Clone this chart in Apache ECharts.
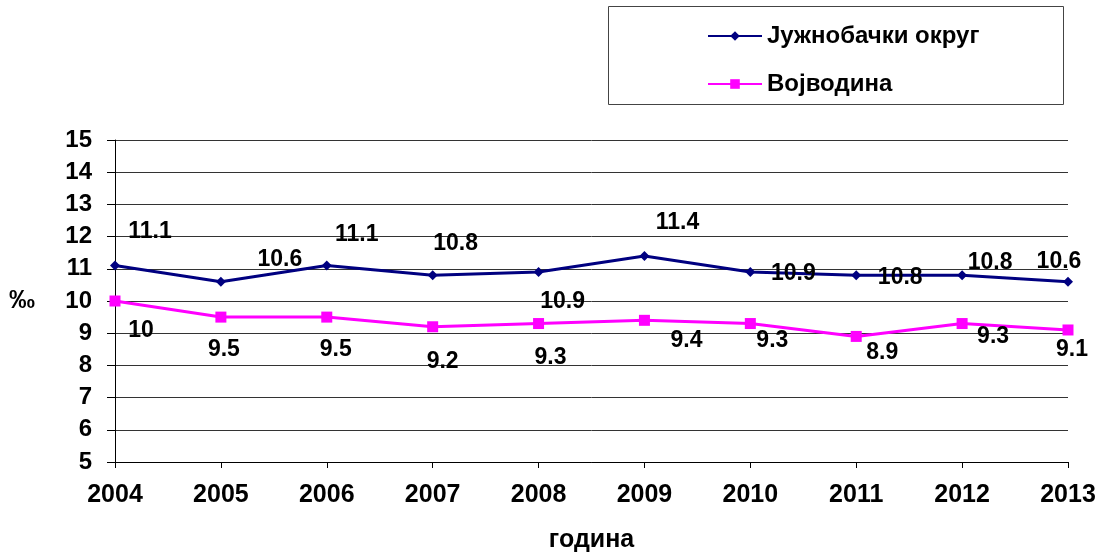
<!DOCTYPE html>
<html>
<head>
<meta charset="utf-8">
<script src="https://cdn.jsdelivr.net/npm/echarts@6/dist/echarts.min.js"></script>
<style>
html, body { margin: 0; padding: 0; background: #fff; }
#main { width: 1106px; height: 556px; }
</style>
</head>
<body>
<div id="main"></div>
<script>
// chart data
var years = ['2004', '2005', '2006', '2007', '2008', '2009', '2010', '2011', '2012', '2013'];
var juznobacki = [11.1, 10.6, 11.1, 10.8, 10.9, 11.4, 10.9, 10.8, 10.8, 10.6];
var vojvodina = [10, 9.5, 9.5, 9.2, 9.3, 9.4, 9.3, 8.9, 9.3, 9.1];

// label offsets (px from point), as placed in the original
var blueOffsets = [[35, -34], [59, -22], [30, -31], [23, -32], [24, 30], [33, -33], [43, 2], [44, 2], [28, -13], [-9, -20]];
var pinkOffsets = [[26, 30], [3, 33], [9, 33], [10, 35], [12, 34], [42, 20], [22, 17], [26, 16], [31, 13], [4, 20]];

var fontFam = 'Liberation Sans, Arial, sans-serif';

function withLabels(values, offsets) {
	return values.map(function(v, i) {
		return {
			value : v,
			label : { offset : offsets[i] }
		};
	});
}

var myChart = echarts.init(document.getElementById('main'));

var labelStyle = {
	show : true,
	position : 'inside',
	color : '#000',
	fontFamily : fontFam,
	fontWeight : 'bold',
	fontSize : 23
};

var option = {
	backgroundColor : '#FFFFFF',
	animation : false,
	grid : {
		left : 115,
		right : 38,
		top : 140,
		bottom : 94,
		containLabel : false,
		outerBoundsMode : 'none'
	},
	graphic : [{
		type : 'rect',
		shape : { x : 608.5, y : 6.5, width : 455, height : 98 },
		style : { fill : '#fff', stroke : '#444', lineWidth : 1 },
		z : 0
	}],
	legend : {
		orient : 'vertical',
		left : 702,
		top : 17,
		itemWidth : 54,
		itemHeight : 12,
		itemGap : 20,
		z : 10,
		textStyle : {
			color : '#000',
			fontFamily : fontFam,
			fontWeight : 'bold',
			fontSize : 24,
			lineHeight : 28
		},
		data : ['Јужнобачки округ', 'Војводина']
	},
	xAxis : {
		type : 'category',
		data : years,
		boundaryGap : false,
		name : 'година',
		nameLocation : 'middle',
		nameGap : 66,
		nameTextStyle : {
			color : '#000',
			fontFamily : fontFam,
			fontWeight : 'bold',
			fontSize : 25
		},
		axisLine : { lineStyle : { color : '#000', width : 1 } },
		axisTick : { alignWithLabel : true, length : 6, lineStyle : { color : '#000' } },
		axisLabel : {
			color : '#000',
			fontFamily : fontFam,
			fontWeight : 'bold',
			fontSize : 25,
			margin : 21
		},
		splitLine : { show : false }
	},
	yAxis : {
		type : 'value',
		min : 5,
		max : 15,
		interval : 1,
		name : '‰',
		nameLocation : 'middle',
		nameRotate : 0,
		nameGap : 80,
		nameTextStyle : {
			color : '#000',
			fontFamily : fontFam,
			fontWeight : 'bold',
			fontSize : 26
		},
		axisLine : { show : true, lineStyle : { color : '#000', width : 1 } },
		axisTick : { show : true, length : 8, lineStyle : { color : '#000' } },
		axisLabel : {
			color : '#000',
			fontFamily : fontFam,
			fontWeight : 'bold',
			fontSize : 24,
			margin : 23
		},
		splitLine : { show : true, lineStyle : { color : '#333', width : 1 } }
	},
	series : [{
		name : 'Јужнобачки округ',
		type : 'line',
		data : withLabels(juznobacki, blueOffsets),
		symbol : 'diamond',
		symbolSize : 10,
		showAllSymbol : true,
		itemStyle : { color : '#000080' },
		lineStyle : { color : '#000080', width : 3 },
		label : labelStyle,
		z : 3
	}, {
		name : 'Војводина',
		type : 'line',
		data : withLabels(vojvodina, pinkOffsets),
		symbol : 'rect',
		symbolSize : 11,
		showAllSymbol : true,
		itemStyle : { color : '#FF00FF' },
		lineStyle : { color : '#FF00FF', width : 3 },
		label : labelStyle,
		z : 3
	}]
};

myChart.setOption(option);
</script>
</body>
</html>
